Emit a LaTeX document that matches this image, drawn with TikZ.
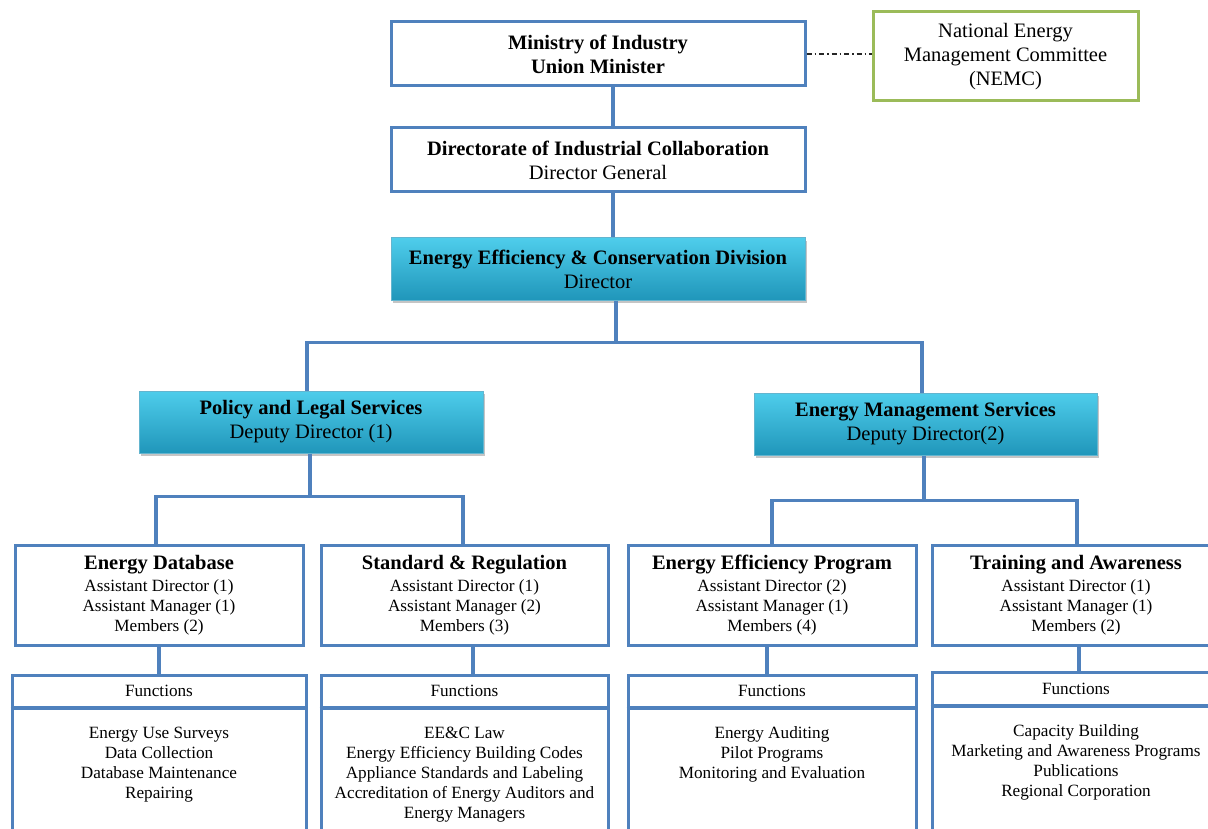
\documentclass[tikz,border=0pt]{standalone}
\usepackage{fontspec}
\setmainfont{Liberation Serif}
\usetikzlibrary{shadows}
\definecolor{bl}{RGB}{79,129,189}
\definecolor{gr}{RGB}{155,187,89}
\definecolor{cyT}{RGB}{78,205,235}
\definecolor{cyB}{RGB}{32,150,186}
\tikzset{
  big/.style={font=\fontsize{20.5}{24}\selectfont},
  small/.style={font=\fontsize{17.2}{20}\selectfont},
  wbox/.style={draw=bl, line width=3pt, fill=white, align=center, inner sep=0pt},
  gbox/.style={draw=gr, line width=3pt, fill=white, align=center, inner sep=0pt},
  cbox/.style={top color=cyT, bottom color=cyB, draw=cyB!70!white, line width=1pt,
    align=center, inner sep=0pt,
    drop shadow={opacity=0.45, shadow xshift=2pt, shadow yshift=-3pt}},
  link/.style={draw=bl, line width=3.5pt},
  ftext/.style={small, align=center, inner sep=0pt, anchor=north},
}
\begin{document}
\begin{tikzpicture}[x=1pt, y=-1pt]
\clip (0,0) rectangle (1208,829);
\fill[white] (0,0) rectangle (1208,829);

% top level
\node[wbox, big, minimum width=414pt, minimum height=64pt] (min) at (598,54)
  {\textbf{Ministry of Industry}\\\textbf{Union Minister}};
\node[gbox, big, minimum width=265pt, minimum height=89pt] (nemc) at (1005.5,56.5)
  {National Energy\\Management Committee\\(NEMC)};
\node[wbox, big, minimum width=414pt, minimum height=64pt] (dir) at (598,160)
  {\textbf{Directorate of Industrial Collaboration}\\Director General};
\node[cbox, big, minimum width=414pt, minimum height=62pt] (eec) at (598,269)
  {\textbf{Energy Efficiency \& Conservation Division}\\Director};
\node[cbox, big, minimum width=344pt, minimum height=62pt] (pol) at (311,422)
  {\textbf{Policy and Legal Services}\\Deputy Director (1)};
\node[cbox, big, minimum width=343pt, minimum height=62pt] (ems) at (925.5,424)
  {\textbf{Energy Management Services}\\Deputy Director(2)};

% level 3
\node[wbox, small, minimum width=288pt, minimum height=100pt] (db) at (159,595)
  {{\fontsize{20.5}{22}\selectfont\bfseries Energy Database}\\[2pt]Assistant Director (1)\\Assistant Manager (1)\\Members (2)};
\node[wbox, small, minimum width=287pt, minimum height=100pt] (sr) at (464.5,595)
  {{\fontsize{20.5}{22}\selectfont\bfseries Standard \& Regulation}\\[2pt]Assistant Director (1)\\Assistant Manager (2)\\Members (3)};
\node[wbox, small, minimum width=288pt, minimum height=100pt] (eep) at (772,595)
  {{\fontsize{20.5}{22}\selectfont\bfseries Energy Efficiency Program}\\[2pt]Assistant Director (2)\\Assistant Manager (1)\\Members (4)};
\node[wbox, small, minimum width=288pt, minimum height=100pt] (tr) at (1076,595)
  {{\fontsize{20.5}{22}\selectfont\bfseries Training and Awareness}\\[2pt]Assistant Director (1)\\Assistant Manager (1)\\Members (2)};

% functions tables
\node[wbox, small, minimum width=294pt, minimum height=32pt] (fh1) at (159,691) {Functions};
\node[wbox, minimum width=294pt, minimum height=143pt, anchor=north] (fb1) at ([yshift=3pt]fh1.south) {};
\node[wbox, small, minimum width=287pt, minimum height=32pt] (fh2) at (464.5,691) {Functions};
\node[wbox, minimum width=287pt, minimum height=143pt, anchor=north] (fb2) at ([yshift=3pt]fh2.south) {};
\node[wbox, small, minimum width=288pt, minimum height=32pt] (fh3) at (772,691) {Functions};
\node[wbox, minimum width=288pt, minimum height=143pt, anchor=north] (fb3) at ([yshift=3pt]fh3.south) {};
\node[wbox, small, minimum width=288pt, minimum height=33pt] (fh4) at (1076,688.5) {Functions};
\node[wbox, minimum width=288pt, minimum height=143pt, anchor=north] (fb4) at ([yshift=3pt]fh4.south) {};
\draw[draw=bl, line width=3pt] (fh1.south west) -- (fh1.south east);
\draw[draw=bl, line width=3pt] (fh2.south west) -- (fh2.south east);
\draw[draw=bl, line width=3pt] (fh3.south west) -- (fh3.south east);
\draw[draw=bl, line width=3pt] (fh4.south west) -- (fh4.south east);

\node[ftext] (ft1) at (159,726.5) {Energy Use Surveys\\Data Collection\\Database Maintenance\\Repairing};
\node[ftext] (ft2) at (464.5,726.5) {EE\&C Law\\Energy Efficiency Building Codes\\Appliance Standards and Labeling\\Accreditation of Energy Auditors and\\Energy Managers};
\node[ftext] (ft3) at (772,726.5) {Energy Auditing\\Pilot Programs\\Monitoring and Evaluation};
\node[ftext] (ft4) at (1076,724.5) {Capacity Building\\Marketing and Awareness Programs\\Publications\\Regional Corporation};

% connectors
\draw[black!85, line width=1.2pt, dash pattern=on 5pt off 3pt on 1.5pt off 3pt] (min.east) -- (min.east -| nemc.west);
\draw[link] ([xshift=15pt]min.south) -- ([xshift=15pt]dir.north);
\draw[link] ([xshift=15pt]dir.south) -- ([xshift=15pt]eec.north);
\coordinate (j1) at (616,343);
\draw[link] ([xshift=18pt]eec.south) -- (j1);
\draw[link] ([xshift=-4pt]pol.north) -- ++(0,-48) -| ([xshift=-3.5pt]ems.north);
\coordinate (j2) at (310,498);
\draw[link] ([xshift=-1pt]pol.south) -- (j2);
\draw[link] ([xshift=-3pt]db.north) -- ++(0,-47) -| ([xshift=-1.5pt]sr.north);
\coordinate (j3) at (924,502);
\draw[link] ([xshift=-1.5pt]ems.south) -- (j3);
\draw[link] (eep.north) -- ++(0,-43) -| ([xshift=1pt]tr.north);
\draw[link] (db.south) -- (fh1.north);
\draw[link] ([xshift=8.5pt]sr.south) -- ([xshift=8.5pt]fh2.north);
\draw[link] ([xshift=-5pt]eep.south) -- ([xshift=-5pt]fh3.north);
\draw[link] ([xshift=3pt]tr.south) -- ([xshift=3pt]fh4.north);
\end{tikzpicture}
\end{document}
